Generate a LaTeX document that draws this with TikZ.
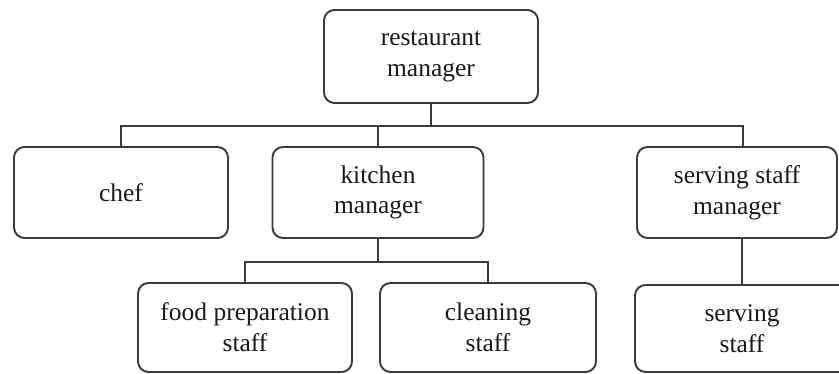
\documentclass[tikz,border=0pt]{standalone}
\usepackage{fontspec}
\setmainfont{Liberation Serif}
\usepackage{tikz}
\usetikzlibrary{positioning,calc}
\definecolor{trait}{RGB}{58,58,58}

\begin{document}
\begin{tikzpicture}[
    x=0.02cm, y=-0.02cm,
    poste/.style={draw=trait, line width=1.1pt, rounded corners=6pt, align=center, inner sep=0pt,
        font=\fontsize{14.5}{17.5}\selectfont, text=black!90},
    lien/.style={draw=trait, line width=1.1pt}
]
% cadre de la page
\clip (0,0) rectangle (839,374);
\useasboundingbox (0,0) rectangle (839,374);

\node[poste, minimum width=214*0.02cm, minimum height=93*0.02cm] (resto) at (431,56.5) {restaurant\\manager};

\node[poste, minimum width=214*0.02cm, minimum height=91*0.02cm] (chef) at (121,192.5) {chef};
\node[poste, minimum width=211*0.02cm, minimum height=91*0.02cm] (cuisine) at (378,192.5) {kitchen\\manager};
\node[poste, minimum width=200*0.02cm, minimum height=91*0.02cm] (service) at (737,192.5) {serving staff\\manager};

\node[poste, minimum width=214*0.02cm, minimum height=89*0.02cm] (prepa) at (245,327.5) {food preparation\\staff};
\node[poste, minimum width=216*0.02cm, minimum height=89*0.02cm] (menage) at (488,327.5) {cleaning\\staff};
\node[poste, minimum width=214*0.02cm, minimum height=87*0.02cm] (serveurs) at (742,328.5) {serving\\staff};

% barres horizontales
\coordinate (barre1) at (0,126);
\coordinate (barre2) at (0,262);

\draw[lien] (resto.south) -- (resto.south |- barre1);
\draw[lien] (chef.north) -- (chef.north |- barre1) -| ($(service.north)+(6,0)$);
\draw[lien] (cuisine.north) -- (cuisine.north |- barre1);

\draw[lien] (cuisine.south) -- (cuisine.south |- barre2);
\draw[lien] (prepa.north) -- (prepa.north |- barre2) -| (menage.north);
\draw[lien] (serveurs.north |- service.south) -- (serveurs.north);
\end{tikzpicture}
\end{document}
